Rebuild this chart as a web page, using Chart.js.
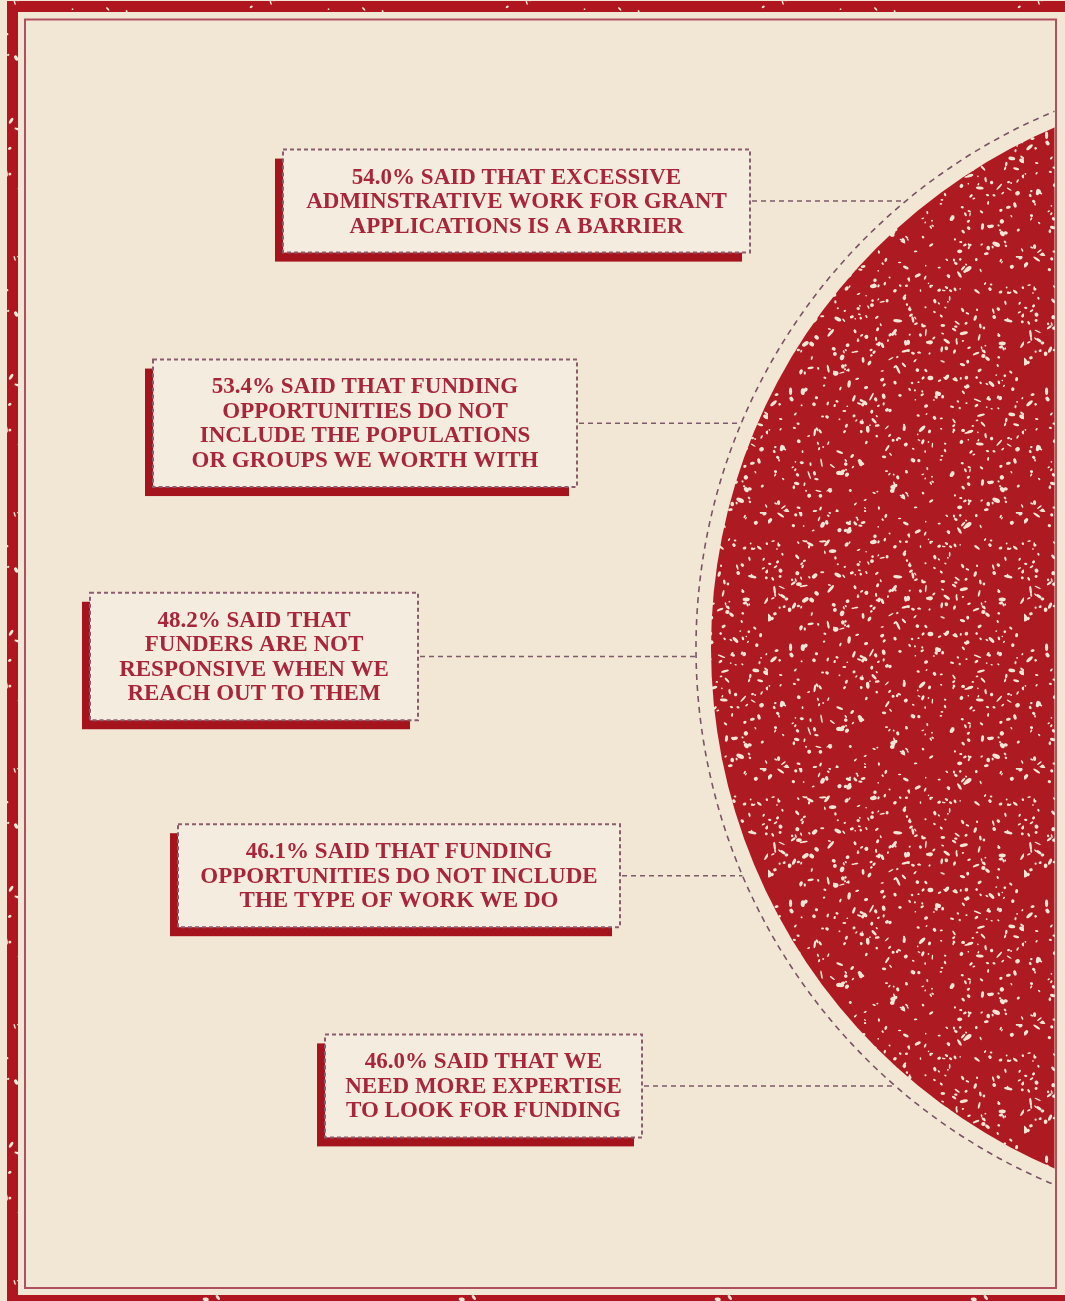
<!DOCTYPE html>
<html>
<head>
<meta charset="utf-8">
<script src="https://cdn.jsdelivr.net/npm/chart.js@4.4.1/dist/chart.umd.min.js"></script>
<style>
  html, body { margin: 0; padding: 0; background: #f2e7d5; }
  #wrap { position: relative; width: 1065px; height: 1301px; overflow: hidden; }
</style>
</head>
<body>
<div id="wrap"><canvas id="c"></canvas></div>
<script>
// ---------------- DATA ----------------
const CATEGORIES = [
  'Excessive administrative work',
  'Funding excludes our populations',
  'Funders not responsive',
  'Funding excludes our type of work',
  'Need more expertise'
];
const VALUES = [54.0, 53.4, 48.2, 46.1, 46.0];
// label text after the percentage, one entry per line
const LABEL_LINES = [
  ['% SAID THAT EXCESSIVE', 'ADMINSTRATIVE WORK FOR GRANT', 'APPLICATIONS IS A BARRIER'],
  ['% SAID THAT FUNDING', 'OPPORTUNITIES DO NOT', 'INCLUDE THE POPULATIONS', 'OR GROUPS WE WORTH WITH'],
  ['% SAID THAT', 'FUNDERS ARE NOT', 'RESPONSIVE WHEN WE', 'REACH OUT TO THEM'],
  ['% SAID THAT FUNDING', 'OPPORTUNITIES DO NOT INCLUDE', 'THE TYPE OF WORK WE DO'],
  ['% SAID THAT WE', 'NEED MORE EXPERTISE', 'TO LOOK FOR FUNDING']
];

// ---------------- STYLE / LAYOUT ----------------
const STYLE = {
  bg: '#f2e7d5',
  red: '#ad1a22',
  shadowRed: '#a5141d',
  text: '#a8263a',
  boxFill: '#f4ecdf',
  boxDash: '#8a5c6e',
  leader: '#7c5a6a',
  ring: '#7a5366',
  frameLine: '#b0505e',
  font: 'bold 23px "Liberation Serif", "Times New Roman", serif',
  lineH: 24.5,
  boxPadV: 54,
  shadowDx: -8, shadowDy: 9,
  boxCx: [516.5, 365, 254, 399, 483.5],
  boxW: [467, 424, 328, 442, 317],
  rowDy: [-3, -3, 8, 5, -7],
  circle: { cx: 1277, cy: 648, r: 566, ring: 581 },
  inner: { l: 25, t: 19.5, r: 1056, b: 1288 }
};

// deterministic speckle texture (decoration only)
function makeTexture(base, speck, count, seed, scale) {
  const c = document.createElement('canvas');
  c.width = c.height = 256;
  const g = c.getContext('2d');
  g.fillStyle = base; g.fillRect(0, 0, 256, 256);
  let s = seed >>> 0;
  const rnd = () => { s = (Math.imul(s, 1664525) + 1013904223) >>> 0; return s / 4294967296; };
  g.fillStyle = speck;
  for (let k = 0; k < count; k++) {
    const x = rnd() * 256, y = rnd() * 256;
    const rx = (0.7 + rnd() * rnd() * 3.6) * scale, ry = (0.6 + rnd() * 1.3) * scale;
    const a = rnd() * Math.PI;
    g.beginPath(); g.ellipse(x, y, rx, ry, a, 0, Math.PI * 2); g.fill();
  }
  return c;
}

const decoPlugin = {
  id: 'deco',
  beforeDraw(chart) {
    const ctx = chart.ctx;
    const W = chart.width, H = chart.height;
    const C = STYLE.circle, I = STYLE.inner;
    ctx.save();
    ctx.fillStyle = STYLE.bg; ctx.fillRect(0, 0, W, H);

    // big circle, clipped to the inner frame
    ctx.save();
    ctx.beginPath(); ctx.rect(I.l + 1, I.t + 1, I.r - I.l - 2.5, I.b - I.t - 2); ctx.clip();
    const pat = ctx.createPattern(makeTexture(STYLE.red, STYLE.bg, 620, 7, 1.15), 'repeat');
    ctx.fillStyle = pat;
    ctx.beginPath(); ctx.arc(C.cx, C.cy, C.r, 0, Math.PI * 2); ctx.fill();
    ctx.setLineDash([6, 5]); ctx.lineWidth = 1.6; ctx.strokeStyle = STYLE.ring;
    ctx.beginPath(); ctx.arc(C.cx, C.cy, C.ring, 0, Math.PI * 2); ctx.stroke();
    ctx.restore();

    // outer frame bands
    const bandPat = ctx.createPattern(makeTexture('#b0161f', STYLE.bg, 140, 11, 1), 'repeat');
    ctx.fillStyle = bandPat;
    ctx.fillRect(7, 1, 11, H - 1);
    ctx.fillRect(7, 1, W - 7, 11);
    ctx.fillRect(7, 1295, W - 7, 6);
    // inner thin frame line
    ctx.setLineDash([]);
    ctx.strokeStyle = STYLE.frameLine; ctx.lineWidth = 2;
    ctx.strokeRect(I.l, I.t, I.r - I.l, I.b - I.t);
    ctx.restore();
  },
  afterDatasetsDraw(chart) {
    const ctx = chart.ctx;
    const yScale = chart.scales.y;
    const C = STYLE.circle;
    ctx.save();
    CATEGORIES.forEach((cat, i) => {
      const lines = LABEL_LINES[i].slice();
      lines[0] = VALUES[i].toFixed(1) + lines[0];
      const y = yScale.getPixelForValue(i) + STYLE.rowDy[i];
      const w = STYLE.boxW[i];
      const h = STYLE.boxPadV + (lines.length - 1) * STYLE.lineH;
      const left = STYLE.boxCx[i] - w / 2, top = y - h / 2;
      const right = left + w;

      // leader line to the ring
      const dy = y - C.cy;
      const xEnd = C.cx - Math.sqrt(Math.max(0, C.ring * C.ring - dy * dy));
      ctx.setLineDash([5, 4]); ctx.lineWidth = 1.5; ctx.strokeStyle = STYLE.leader;
      ctx.beginPath(); ctx.moveTo(right + 2, y); ctx.lineTo(xEnd, y); ctx.stroke();

      // shadow, box, dashed border
      ctx.setLineDash([]);
      ctx.fillStyle = STYLE.shadowRed;
      ctx.fillRect(left + STYLE.shadowDx, top + STYLE.shadowDy, w, h);
      ctx.fillStyle = STYLE.boxFill;
      ctx.fillRect(left, top, w, h);
      ctx.setLineDash([4, 3]); ctx.lineWidth = 2; ctx.strokeStyle = STYLE.boxDash;
      ctx.strokeRect(left, top, w, h);

      // text
      ctx.setLineDash([]);
      ctx.font = STYLE.font;
      ctx.textAlign = 'center'; ctx.textBaseline = 'middle';
      ctx.fillStyle = STYLE.text;
      const cx = STYLE.boxCx[i];
      const startY = y - (lines.length - 1) * STYLE.lineH / 2 + 1;
      lines.forEach((ln, k) => ctx.fillText(ln, cx, startY + k * STYLE.lineH));
    });
    ctx.restore();
  }
};

new Chart(document.getElementById('c'), {
  type: 'bar',
  data: {
    labels: CATEGORIES,
    datasets: [{ data: VALUES, backgroundColor: 'rgba(0,0,0,0)', borderWidth: 0 }]
  },
  options: {
    indexAxis: 'y',
    responsive: true,
    maintainAspectRatio: false,
    devicePixelRatio: 1,
    animation: false,
    layout: { padding: { top: 93, bottom: 97, left: 0, right: 0 } },
    scales: {
      x: { display: false, min: 0, max: 100 },
      y: { display: false, type: 'category', offset: true }
    },
    plugins: { legend: { display: false }, tooltip: { enabled: false } }
  },
  plugins: [decoPlugin]
});
</script>
</body>
</html>
